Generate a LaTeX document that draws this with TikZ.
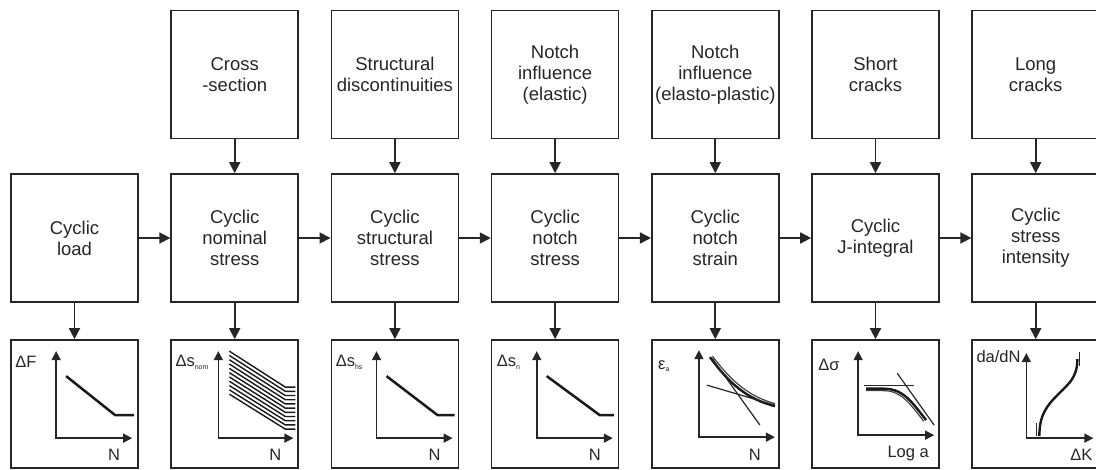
\documentclass[tikz,border=0pt]{standalone}
\usepackage{fontspec}
\setmainfont{Liberation Sans}
\usetikzlibrary{arrows.meta}
\tikzstyle{blk}=[draw=black!85, line width=1.7pt, minimum width=127pt, minimum height=128pt, inner sep=0pt, align=center, font=\fontsize{18.5}{21}\selectfont, text=black!85]
\tikzstyle{flow}=[draw=black!85, line width=1.7pt, arrows={-Triangle[length=11pt,width=11pt]}]
\tikzstyle{axis}=[draw=black!85, line width=1.6pt, arrows={Triangle[length=9pt,width=9pt]-Triangle[length=9pt,width=9pt]}]
\tikzstyle{curve}=[draw=black!90, line width=2.5pt]
\tikzstyle{lbl}=[font=\fontsize{16.5}{16.5}\selectfont, inner sep=0pt, text=black!85]
\newcommand{\lowidx}[1]{\raisebox{-2.5pt}{\fontsize{7}{7}\selectfont #1}}

\begin{document}
\begin{tikzpicture}[x=1pt, y=-1pt]
	\useasboundingbox (0,0) rectangle (1096,470);
	% middle row
	\foreach \i/\txt in {0/{Cyclic\\load}, 1/{Cyclic\\nominal\\stress}, 2/{Cyclic\\structural\\stress}, 3/{Cyclic\\notch\\stress}, 4/{Cyclic\\notch\\strain}, 5/{Cyclic\\J-integral}, 6/{Cyclic\\stress\\intensity}} {
		\node[blk] (mid\i) at (74.5+160.2*\i, 238) {\txt};
		\node[blk] (plot\i) at (74.5+160.2*\i, 404) {};
		\draw[flow] (mid\i) -- (plot\i);
	}
	% top row
	\foreach \i/\txt in {1/{Cross\\-section}, 2/{Structural\\discontinuities}, 3/{Notch\\influence\\(elastic)}, 4/{Notch\\influence\\(elasto-plastic)}, 5/{Short\\cracks}, 6/{Long\\cracks}} {
		\node[blk] (top\i) at (74.5+160.2*\i, 74.5) {\txt};
		\draw[flow] (top\i) -- (mid\i);
	}
	\foreach \i [evaluate=\i as \j using int(\i+1)] in {0,...,5} {
		\draw[flow] (mid\i) -- (mid\j);
	}

	% plots
	\begin{scope}[shift={(plot0.north west)}]
		\draw[axis] (46,12) -- (46,99) -- (122,99);
		\draw[curve] (56,37) -- (105,76) -- (124,76);
		\node[lbl, anchor=west] (y0) at (5,23) {ΔF};
		\node[lbl] (x0) at (104,116) {N};
	\end{scope}
	\begin{scope}[shift={(plot1.north west)}]
		\draw[axis] (48,12) -- (48,99) -- (123,99);
		\foreach \k in {0,...,10}
			\draw[draw=black!90, line width=1.4pt] (59,12+4.3*\k) -- (115,48+4.2*\k) -- (125,48+4.2*\k);
		\node[lbl, anchor=west] (y1) at (5,23) {Δs\lowidx{nom}};
		\node[lbl] (x1) at (105,116) {N};
	\end{scope}
	\begin{scope}[shift={(plot2.north west)}]
		\draw[axis] (46,12) -- (46,99) -- (122,99);
		\draw[curve] (56,37) -- (107,76) -- (124,76);
		\node[lbl, anchor=west] (y2) at (5,23) {Δs\lowidx{hs}};
		\node[lbl] (x2) at (104,116) {N};
	\end{scope}
	\begin{scope}[shift={(plot3.north west)}]
		\draw[axis] (46,12) -- (46,99) -- (122,99);
		\draw[curve] (56,37) -- (109,76) -- (123,76);
		\node[lbl, anchor=west] (y3) at (6,23) {Δs\lowidx{n}};
		\node[lbl] (x3) at (104,116) {N};
	\end{scope}
	\begin{scope}[shift={(plot4.north west)}]
		\draw[axis] (48,11) -- (48,98) -- (124,98);
		\draw[draw=black!90, line width=2.4pt] (59,18) .. controls (78,44) and (96,60) .. (124,67);
		\draw[draw=black!75, line width=1.2pt] (61.5,17) .. controls (80.5,42.5) and (98.5,57.5) .. (124,64.5);
		\draw[draw=black!85, line width=1.2pt] (56,46) -- (124,66);
		\draw[draw=black!85, line width=1.2pt] (61,19) -- (109,86);
		\node[lbl, anchor=west] (y4) at (7,27) {ε\lowidx{a}};
		\node[lbl] (x4) at (104,116) {N};
	\end{scope}
	\begin{scope}[shift={(plot5.north west)}]
		\draw[axis] (47,12) -- (47,96) -- (123,96);
		\draw[draw=black!85, line width=1.2pt] (53,46) -- (103,46);
		\draw[draw=black!90, line width=2.4pt] (55,49.5) -- (72,49.5) .. controls (92,49.5) and (100,62) .. (115,81);
		\draw[draw=black!75, line width=1.2pt] (55,51.5) -- (72,51.5) .. controls (90,51.5) and (98,63.5) .. (112.5,82);
		\draw[draw=black!85, line width=1.2pt] (86,34) -- (123,86);
		\node[lbl, anchor=west] (y5) at (7,26) {Δσ};
		\node[lbl] (x5) at (97,114) {Log a};
	\end{scope}
	\begin{scope}[shift={(plot6.north west)}]
		\draw[axis] (55,14) -- (55,99) -- (122,99);
		\draw[draw=black!90, line width=2.4pt] (68,97) .. controls (68,75) and (76,66) .. (87,55) .. controls (98,44) and (106,38) .. (106,20);
		\draw[draw=black!85, line width=1.2pt] (65,84) -- (65,97);
		\draw[draw=black!85, line width=1.2pt] (108,13) -- (108,27);
		\node[lbl, anchor=west] (y6) at (5,17) {da/dN};
		\node[lbl] (x6) at (110,116) {ΔK};
	\end{scope}
\end{tikzpicture}
\end{document}
